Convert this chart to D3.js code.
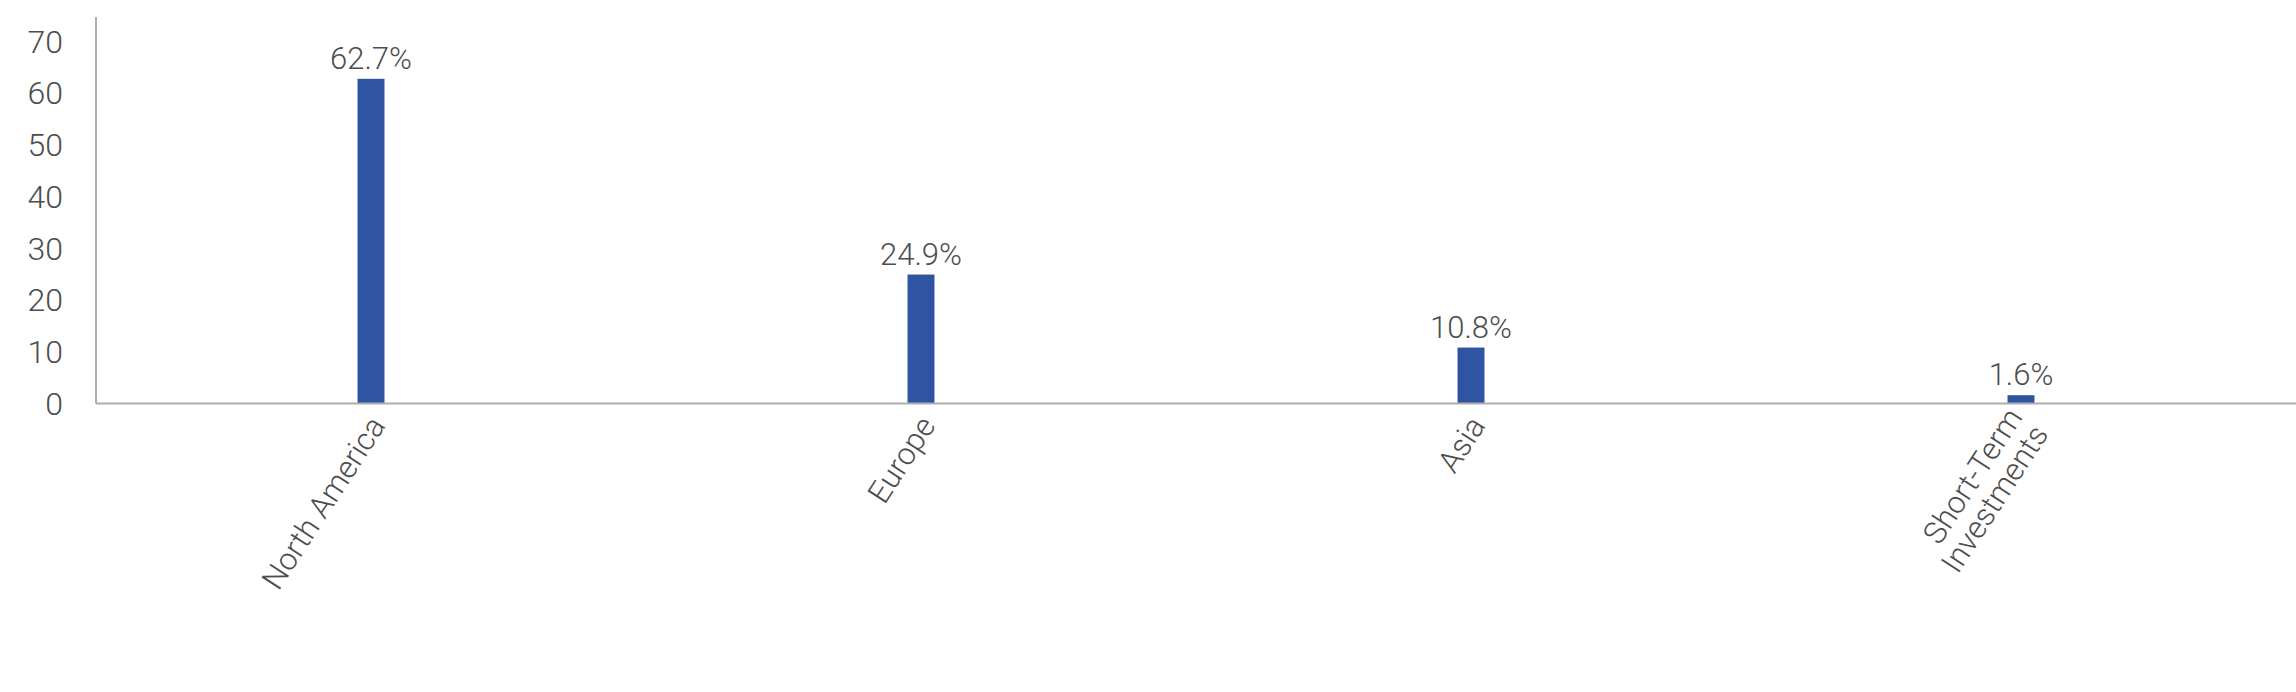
<!DOCTYPE html>
<html>
<head>
<meta charset="utf-8">
<script src="https://cdn.jsdelivr.net/npm/d3@7"></script>
<style>
  body { margin: 0; background: #fff; }
  text { font-family: Roboto, "Open Sans", sans-serif; font-weight: 300; fill: #4d4d4d; }
</style>
</head>
<body>
<svg id="chart"></svg>
<script>
// data
const categories = ["North America", "Europe", "Asia", "Short-Term Investments"];
const values = [62.7, 24.9, 10.8, 1.6];
const yTicks = [0, 10, 20, 30, 40, 50, 60, 70];

// constants
const width = 2296;
const height = 692;
const margin = { left: 96, right: 0, top: 17, bottom: 288.5 };
const plotBottom = height - margin.bottom;

const svg = d3.select('svg#chart').attr('width', width).attr('height', height);

const x = d3.scaleBand()
  .domain(categories)
  .range([margin.left, width - margin.right])
  .paddingInner(0.951)
  .paddingOuter(0.4755);

const y = d3.scaleLinear()
  .domain([0, 70])
  .range([plotBottom, 41]);

// bars
svg.append('g').selectAll('rect')
  .data(values)
  .enter().append('rect')
  .attr('x', (d, i) => x(categories[i]))
  .attr('y', d => y(d))
  .attr('width', x.bandwidth())
  .attr('height', d => y(0) - y(d))
  .attr('fill', '#2E54A2');

// value labels
svg.append('g').selectAll('text')
  .data(values)
  .enter().append('text')
  .attr('x', (d, i) => x(categories[i]) + x.bandwidth() / 2)
  .attr('y', d => y(d) - 10)
  .attr('text-anchor', 'middle')
  .style('font-size', '31px')
  .text(d => d.toFixed(1) + '%');

// y axis labels (no ticks drawn)
svg.append('g').selectAll('text')
  .data(yTicks)
  .enter().append('text')
  .attr('x', 63)
  .attr('y', d => y(d))
  .attr('dy', '0.36em')
  .attr('text-anchor', 'end')
  .style('font-size', '32px')
  .text(d => d);

// axis lines
svg.append('line')
  .attr('x1', margin.left).attr('x2', margin.left)
  .attr('y1', margin.top).attr('y2', plotBottom)
  .attr('stroke', '#ADADAD').attr('stroke-width', 2);
svg.append('line')
  .attr('x1', margin.left).attr('x2', width)
  .attr('y1', plotBottom).attr('y2', plotBottom)
  .attr('stroke', '#ADADAD').attr('stroke-width', 2);

// category labels, rotated; long one wraps to two lines
const wrapLines = { "Short-Term Investments": ["Short-Term", "Investments"] };
const lineH = 31;
categories.forEach(function(cat) {
  const lines = wrapLines[cat] || [cat];
  const cx = x(cat) + x.bandwidth() / 2;
  const t = svg.append('text')
    .attr('transform', 'translate(' + (cx + 6) + ',' + (plotBottom + 16) + ') rotate(-57)')
    .attr('text-anchor', 'end')
    .style('font-size', '31px');
  lines.forEach(function(l, i) {
    t.append('tspan')
      .attr('x', 0)
      .attr('y', (i - (lines.length - 1) / 2) * lineH)
      .attr('dy', '0.36em')
      .text(l);
  });
});
</script>
</body>
</html>
